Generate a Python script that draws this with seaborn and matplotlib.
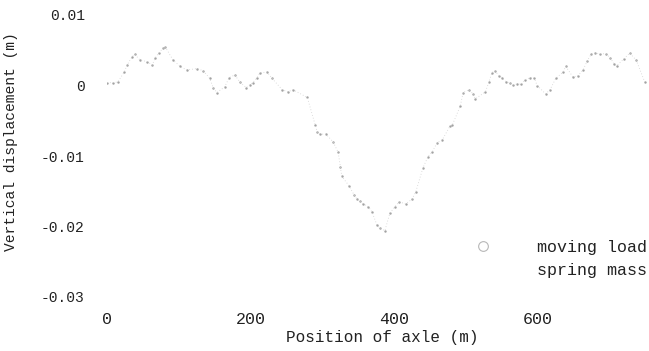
import matplotlib
matplotlib.use("Agg")
import matplotlib.pyplot as plt
from matplotlib.lines import Line2D
import pandas as pd
import seaborn as sns

# Axle position along the bridge (m)
position = [0, 8, 15, 24, 28, 35, 39, 46, 56, 63,
            67, 72, 78, 81, 92, 102, 111, 125, 134, 143,
            148, 153, 164, 170, 178, 185, 194, 199, 203, 209,
            213, 223, 230, 244, 252, 259, 279, 290, 293, 297,
            305, 315, 322, 325, 327, 337, 344, 348, 352, 357,
            364, 369, 376, 380, 387, 394, 401, 407, 416, 425,
            430, 440, 447, 453, 460, 467, 478, 481, 492, 496,
            504, 510, 513, 527, 532, 536, 540, 546, 550, 556,
            561, 566, 571, 577, 582, 589, 595, 599, 611, 617,
            625, 635, 639, 649, 656, 663, 669, 674, 680, 687,
            695, 701, 706, 710, 720, 728, 737, 749]

# Vertical displacement under the axle (m)
displacement = [0.0004, 0.0004, 0.0005, 0.0019, 0.0029, 0.0041, 0.0044, 0.0036, 0.0034, 0.0029,
                0.0039, 0.0046, 0.0053, 0.0055, 0.0036, 0.0027, 0.0022, 0.0024, 0.0021, 0.0010,
                -0.0003, -0.0010, -0.0002, 0.0011, 0.0015, 0.0005, -0.0003, 0.0001, 0.0004, 0.0011,
                0.0018, 0.0019, 0.0010, -0.0006, -0.0009, -0.0006, -0.0017, -0.0056, -0.0066, -0.0069,
                -0.0069, -0.0080, -0.0095, -0.0115, -0.0129, -0.0142, -0.0155, -0.0161, -0.0164, -0.0168,
                -0.0172, -0.0179, -0.0198, -0.0202, -0.0206, -0.0181, -0.0172, -0.0165, -0.0168, -0.0161,
                -0.0151, -0.0117, -0.0101, -0.0094, -0.0081, -0.0077, -0.0057, -0.0056, -0.0029, -0.0010,
                -0.0006, -0.0012, -0.0019, -0.0009, 0.0005, 0.0018, 0.0021, 0.0014, 0.0011, 0.0005,
                0.0004, 0.0001, 0.0002, 0.0002, 0.0008, 0.0011, 0.0011, 0.0000, -0.0012, -0.0006,
                0.0010, 0.0019, 0.0027, 0.0012, 0.0014, 0.0022, 0.0035, 0.0044, 0.0046, 0.0045,
                0.0045, 0.0039, 0.0031, 0.0028, 0.0038, 0.0046, 0.0036, 0.0005]

series_labels = ["moving load", "spring mass"]
x_ticks = [0, 200, 400, 600]
y_ticks = [0.01, 0.0, -0.01, -0.02, -0.03]
y_tick_labels = ["0.01", "0", "-0.01", "-0.02", "-0.03"]
x_label = "Position of axle (m)"
y_label = "Vertical displacement (m)"

df = pd.DataFrame({"position": position, "displacement": displacement})

sns.set_theme(style="white")
plt.rcParams["font.family"] = ["Liberation Mono", "DejaVu Sans Mono"]
plt.rcParams["axes.unicode_minus"] = False

W, H = 649, 351
fig = plt.figure(figsize=(W / 100, H / 100), dpi=100)
ax_left, ax_top, ax_bottom = 107, 15, 297
x_max = 800
ax_width = x_max * 0.718
ax = fig.add_axes([ax_left / W, (H - ax_bottom) / H, ax_width / W, (ax_bottom - ax_top) / H])

# spring-mass trace as a faint dotted line, moving-load response as fine grey specks
sns.lineplot(data=df, x="position", y="displacement", ax=ax, color="#d2d2d2",
             linestyle=(0, (1, 2.5)), linewidth=0.6, legend=False)
sns.scatterplot(data=df, x="position", y="displacement", ax=ax, color="#a2a2a2",
                s=3, linewidth=0, legend=False)

ax.set_xlim(0, x_max)
ax.set_ylim(-0.03, 0.01)
ax.set_xticks(x_ticks)
ax.set_xticklabels([str(t) for t in x_ticks], fontsize=12, color="#222222")
ax.set_yticks(y_ticks)
ax.set_yticklabels(y_tick_labels, fontsize=10.5, color="#222222")
ax.tick_params(axis="y", length=0, pad=16)
ax.tick_params(axis="x", length=0, pad=11)
sns.despine(ax=ax, left=True, bottom=True, top=True, right=True)

ax.set_xlabel(x_label, fontsize=11.5, color="#222222")
ax.set_ylabel(y_label, fontsize=10.5, color="#222222")
ax.xaxis.set_label_coords(383 / x_max, -0.118)
ax.yaxis.set_label_coords(-0.155, 0.55)

handles = [
    Line2D([], [], linestyle="none", marker="o", markersize=7,
           markerfacecolor="none", markeredgecolor="#b8b8b8", markeredgewidth=0.8),
    Line2D([], [], linestyle="none", marker="none"),
]
fig.legend(handles, series_labels, loc="upper left",
           bbox_to_anchor=(451 / W, (H - 225) / H), bbox_transform=fig.transFigure,
           frameon=False, fontsize=12, handlelength=2, handletextpad=2.24,
           labelspacing=0.46, borderpad=0.4, labelcolor="#222222")

fig.savefig("out.png", dpi=100)
